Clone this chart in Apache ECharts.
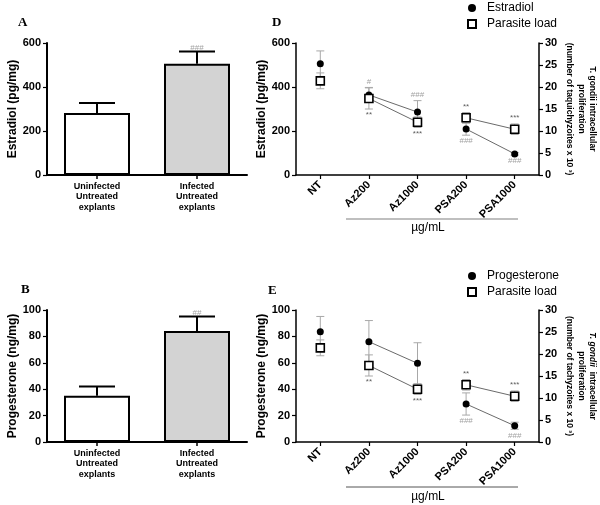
<!DOCTYPE html>
<html>
<head>
<meta charset="utf-8">
<script src="https://cdn.jsdelivr.net/npm/echarts@6.0.0/dist/echarts.min.js"></script>
<style>html,body{margin:0;padding:0;background:#fff}#c{width:600px;height:505px}</style>
</head>
<body>
<div id="c"></div>
<script>
// ---------- DATA ----------
const barCategories = ['Uninfected\nUntreated\nexplants', 'Infected\nUntreated\nexplants'];
const estradiolBar = [282, 506];
const estradiolBarErr = [45, 55];
const estradiolBarSig = ['', '###'];
const progesteroneBar = [35, 84];
const progesteroneBarErr = [7, 11];
const progesteroneBarSig = ['', '##'];

const treatments = ['NT', 'Az200', 'Az1000', 'PSA200', 'PSA1000'];
const treatmentGroup = ['NT', 'Az', 'Az', 'PSA', 'PSA'];

const estradiol = [506, 364, 286, 209, 96];
const estradiolErr = [58, 34, 52, 28, 6];
const estradiolSig = ['', '#', '###', '###', '###'];
const estradiolSigSide = ['', 'top', 'top', 'bottom', 'bottom'];

const progesterone = [83.6, 76, 59.6, 28.8, 12.3];
const progesteroneErr = [11.5, 16, 15.6, 8.4, 2.7];
const progesteroneSig = ['', '', '', '###', '###'];
const progesteroneSigSide = ['', '', '', 'bottom', 'bottom'];

const parasiteLoad = [21.4, 17.4, 12.0, 13.0, 10.4];
const parasiteLoadErr = [1.8, 2.4, 1.2, 1.2, 1.2];
const parasiteSig = ['', '**', '***', '**', '***'];
const parasiteSigSide = ['', 'bottom', 'bottom', 'top', 'top'];

const estradiolTicks = [0, 200, 400, 600];
const progesteroneTicks = [0, 20, 40, 60, 80, 100];
const parasiteTicks = [0, 5, 10, 15, 20, 25, 30];

// ---------- HELPERS ----------
const FONT = '"Liberation Sans", Arial, sans-serif';

function errRenderer(color, width, cap, bothCaps) {
  return function (params, api) {
    const x = api.value(0);
    const lo = api.coord([x, api.value(1)]);
    const hi = api.coord([x, api.value(2)]);
    const style = { stroke: color, lineWidth: width, fill: null };
    const ch = [
      { type: 'line', shape: { x1: hi[0], y1: hi[1], x2: lo[0], y2: lo[1] }, style },
      { type: 'line', shape: { x1: hi[0] - cap, y1: hi[1], x2: hi[0] + cap, y2: hi[1] }, style }
    ];
    if (bothCaps) ch.push({ type: 'line', shape: { x1: lo[0] - cap, y1: lo[1], x2: lo[0] + cap, y2: lo[1] }, style });
    return { type: 'group', children: ch };
  };
}

// one connecting line per treatment group (groups of a single point get no line)
function groupLines(xi, yi, vals, z) {
  const groups = [];
  treatmentGroup.forEach((g) => { if (groups.indexOf(g) < 0) groups.push(g); });
  return groups
    .filter((g) => treatmentGroup.filter((t) => t === g).length > 1)
    .map((g) => ({
      type: 'line', xAxisIndex: xi, yAxisIndex: yi, z: z, silent: true,
      showSymbol: false, connectNulls: false,
      lineStyle: { color: '#444', width: 0.8 },
      data: vals.map((v, i) => (treatmentGroup[i] === g ? v : '-'))
    }));
}

function sigData(vals, errs, sig, side) {
  const out = [];
  vals.forEach((v, i) => {
    if (!sig[i]) return;
    const s = side[i] || 'top';
    const y = s === 'top' ? v + errs[i] : v - errs[i];
    out.push({
      name: sig[i], value: [i, y],
      label: { position: s, color: sig[i].indexOf('#') >= 0 ? '#8a8a8a' : '#333' }
    });
  });
  return out;
}

function sigSeries(xi, yi, data, dist) {
  return {
    type: 'scatter', xAxisIndex: xi, yAxisIndex: yi, symbolSize: 0, z: 5,
    data: data, silent: true,
    label: { show: true, formatter: '{b}', fontSize: 8, fontFamily: FONT, distance: dist }
  };
}

const axisLineA = { show: true, onZero: false, lineStyle: { color: '#000', width: 2 } };
const axisLineD = { show: true, onZero: false, lineStyle: { color: '#000', width: 1.5 } };
const yLabel = { fontSize: 11, fontWeight: 'bold', color: '#000', fontFamily: FONT, margin: 6 };

function barX(gi) {
  return {
    type: 'category', gridIndex: gi, data: barCategories,
    axisLine: axisLineA,
    axisTick: { show: true, alignWithLabel: true, length: 4, lineStyle: { color: '#000', width: 1.5 } },
    axisLabel: { fontSize: 9, fontWeight: 'bold', color: '#000', fontFamily: FONT, lineHeight: 10.5, margin: 6, interval: 0 }
  };
}
function treatX(gi) {
  return {
    type: 'category', gridIndex: gi, data: treatments,
    axisLine: axisLineD,
    axisTick: { show: true, alignWithLabel: true, length: 4, lineStyle: { color: '#000', width: 1.2 } },
    axisLabel: { interval: 0, rotate: 45, fontSize: 11, fontWeight: 'bold', color: '#000', fontFamily: FONT, margin: 8 }
  };
}
function yAx(gi, ticks, name, gap, lineStyle) {
  return {
    type: 'value', gridIndex: gi, min: ticks[0], max: ticks[ticks.length - 1], interval: ticks[1] - ticks[0],
    splitLine: { show: false },
    axisLine: lineStyle,
    axisTick: { show: true, length: 4, lineStyle: { color: '#000', width: 1.2 } },
    axisLabel: yLabel,
    name: name, nameLocation: 'middle', nameGap: gap,
    nameTextStyle: { fontSize: 12, fontWeight: 'bold', color: '#000', fontFamily: FONT }
  };
}
function rightAx(gi, name) {
  return {
    type: 'value', gridIndex: gi, position: 'right', min: parasiteTicks[0], max: parasiteTicks[parasiteTicks.length - 1],
    interval: parasiteTicks[1] - parasiteTicks[0],
    splitLine: { show: false },
    axisLine: axisLineD,
    axisTick: { show: true, length: 4, lineStyle: { color: '#000', width: 1.2 } },
    axisLabel: Object.assign({}, yLabel, { margin: 6 }),
    name: name, nameLocation: 'middle', nameGap: 25, nameRotate: -90,
    nameTextStyle: {
      fontSize: 8.5, fontWeight: 'bold', color: '#000', fontFamily: FONT, lineHeight: 11.5,
      rich: { i: { fontSize: 8.5, fontWeight: 'bold', fontStyle: 'italic', color: '#000', fontFamily: FONT } }
    }
  };
}

function barPanel(xi, yi, vals, errs, sig) {
  return [
    {
      type: 'bar', xAxisIndex: xi, yAxisIndex: yi, barWidth: 66,
      data: vals.map((v, i) => ({ value: v, itemStyle: { color: i === 0 ? '#ffffff' : '#d3d3d3' } })),
      itemStyle: { borderColor: '#000', borderWidth: 2 }, z: 2
    },
    {
      type: 'custom', xAxisIndex: xi, yAxisIndex: yi, z: 3,
      renderItem: errRenderer('#000', 2, 18, false),
      encode: { x: 0, y: [1, 2] },
      data: vals.map((v, i) => [i, v, v + errs[i]])
    },
    sigSeries(xi, yi, sigData(vals, errs, sig, sig.map(() => 'top')), 0)
  ];
}

function linePanel(xi, yl, yr, hName, hVals, hErrs, hSig, hSide) {
  return [].concat(
    [
      {
        type: 'custom', xAxisIndex: xi, yAxisIndex: yl, z: 1,
        renderItem: errRenderer('#a8a8a8', 1, 4, true), encode: { x: 0, y: [1, 2] },
        data: hVals.map((v, i) => [i, v - hErrs[i], v + hErrs[i]])
      },
      {
        type: 'custom', xAxisIndex: xi, yAxisIndex: yr, z: 1,
        renderItem: errRenderer('#a8a8a8', 1, 4, true), encode: { x: 0, y: [1, 2] },
        data: parasiteLoad.map((v, i) => [i, v - parasiteLoadErr[i], v + parasiteLoadErr[i]])
      }
    ],
    groupLines(xi, yl, hVals, 2),
    groupLines(xi, yr, parasiteLoad, 2),
    [
      {
        name: hName, type: 'scatter', xAxisIndex: xi, yAxisIndex: yl, z: 3,
        symbol: 'circle', symbolSize: 7,
        itemStyle: { color: '#000', opacity: 1 },
        data: hVals
      },
      {
        name: 'Parasite load', type: 'scatter', xAxisIndex: xi, yAxisIndex: yr, z: 4,
        symbol: 'rect', symbolSize: 8,
        itemStyle: { color: '#fff', borderColor: '#000', borderWidth: 1.6, opacity: 1 },
        data: parasiteLoad
      },
      sigSeries(xi, yl, sigData(hVals, hErrs, hSig, hSide), 2),
      sigSeries(xi, yr, sigData(parasiteLoad, parasiteLoadErr, parasiteSig, parasiteSigSide), 2)
    ]
  );
}

function legend(top, first) {
  return {
    left: 467, top: top, padding: 0, orient: 'vertical', itemWidth: 8, itemHeight: 8, itemGap: 4,
    selectedMode: false,
    data: [{ name: first, icon: 'circle' }, { name: 'Parasite load', icon: 'rect' }],
    textStyle: { fontSize: 12, color: '#000', fontFamily: FONT, padding: [0, 0, 0, 6] }
  };
}

const letterStyle = { fontSize: 13, fontWeight: 'bold', color: '#000', fontFamily: '"Liberation Serif", "DejaVu Serif", serif' };

const option = {
  animation: false,
  backgroundColor: '#fff',
  title: [
    { text: 'A', left: 18, top: 16, padding: 0, textStyle: letterStyle },
    { text: 'D', left: 272, top: 16, padding: 0, textStyle: letterStyle },
    { text: 'B', left: 21, top: 283, padding: 0, textStyle: letterStyle },
    { text: 'E', left: 268, top: 284, padding: 0, textStyle: letterStyle }
  ],
  legend: [legend(2, 'Estradiol'), legend(270, 'Progesterone')],
  grid: [
    { left: 47, top: 43, width: 200, height: 132 },
    { left: 47, top: 310, width: 200, height: 132 },
    { left: 296, top: 43, width: 243, height: 132 },
    { left: 296, top: 310, width: 243, height: 132 }
  ],
  xAxis: [barX(0), barX(1), treatX(2), treatX(3)],
  yAxis: [
    yAx(0, estradiolTicks, 'Estradiol (pg/mg)', 24, axisLineA),
    yAx(1, progesteroneTicks, 'Progesterone (ng/mg)', 24, axisLineA),
    yAx(2, estradiolTicks, 'Estradiol (pg/mg)', 23, axisLineD),
    rightAx(2, 'T. gondii intracellular\nproliferation\n(number of taquichyzoites x 10 \u00B3)'),
    yAx(3, progesteroneTicks, 'Progesterone (ng/mg)', 23, axisLineD),
    rightAx(3, '{i|T. gondii}  intracellular\nproliferation\n(number of tachyzoites x 10 \u00B3)')
  ],
  graphic: [
    { type: 'line', shape: { x1: 346, y1: 219, x2: 518, y2: 219 }, style: { stroke: '#aaa', lineWidth: 1.5 } },
    { type: 'text', x: 428, y: 228, style: { text: '\u00B5g/mL', fontSize: 12, fontFamily: FONT, fill: '#000', align: 'center', verticalAlign: 'middle' } },
    { type: 'line', shape: { x1: 346, y1: 487, x2: 518, y2: 487 }, style: { stroke: '#555', lineWidth: 1 } },
    { type: 'text', x: 428, y: 497, style: { text: '\u00B5g/mL', fontSize: 12, fontFamily: FONT, fill: '#000', align: 'center', verticalAlign: 'middle' } }
  ],
  series: [].concat(
    barPanel(0, 0, estradiolBar, estradiolBarErr, estradiolBarSig),
    barPanel(1, 1, progesteroneBar, progesteroneBarErr, progesteroneBarSig),
    linePanel(2, 2, 3, 'Estradiol', estradiol, estradiolErr, estradiolSig, estradiolSigSide),
    linePanel(3, 4, 5, 'Progesterone', progesterone, progesteroneErr, progesteroneSig, progesteroneSigSide)
  )
};

const chart = echarts.init(document.getElementById('c'), null, { renderer: 'canvas' });
chart.setOption(option);
</script>
</body>
</html>
